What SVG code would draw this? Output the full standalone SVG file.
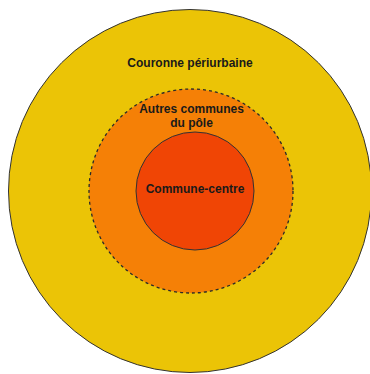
<svg xmlns="http://www.w3.org/2000/svg" width="370" height="374" viewBox="0 0 370 374">
<style>
.lbl{font-family:"Liberation Sans",Arial,sans-serif;font-size:12px;font-weight:bold;fill:#1a1a1a;text-anchor:middle}
.ring{stroke:#333333;stroke-width:1}
</style>
<rect width="370" height="374" fill="#ffffff"/>
<g id="couronne">
<circle class="ring" cx="190" cy="191" r="181.5" fill="#EBC406"/>
<text class="lbl" x="190" y="67">Couronne périurbaine</text>
</g>
<g id="pole">
<circle cx="191" cy="191" r="102" fill="#F58006" stroke="#2a2a2a" stroke-width="1.3" stroke-dasharray="3,3"/>
<text class="lbl" x="191.5" y="113">Autres communes</text>
<text class="lbl" x="191.5" y="127">du pôle</text>
</g>
<g id="centre">
<circle class="ring" cx="195" cy="191" r="59" fill="#F04505"/>
<text class="lbl" x="195" y="193">Commune-centre</text>
</g>
<g id="connectors"/>
</svg>
